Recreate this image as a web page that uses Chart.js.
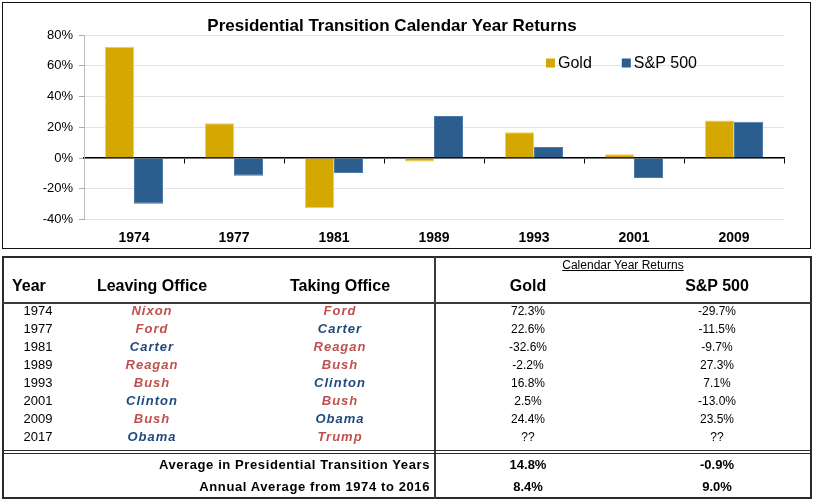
<!DOCTYPE html>
<html>
<head>
<meta charset="utf-8">
<script src="https://cdn.jsdelivr.net/npm/chart.js@4.4.1/dist/chart.umd.min.js"></script>
<style>
html,body{margin:0;padding:0;background:#fff;}
body{width:814px;height:503px;position:relative;overflow:hidden;font-family:"Liberation Sans",Arial,sans-serif;color:#000;}
#chartWrap{position:absolute;left:0;top:0;width:814px;height:250px;}
#chartBorder{position:absolute;left:2px;top:2px;width:809px;height:247px;border:1px solid #111;box-sizing:border-box;pointer-events:none;}
#tableBorder{position:absolute;left:2px;top:256px;width:810px;height:243px;border:2px solid #2a2a2a;box-sizing:border-box;}
#vline{position:absolute;left:434px;top:256px;width:2px;height:243px;background:#3a3a3a;}
#hline{position:absolute;left:2px;top:302px;width:810px;height:2px;background:#3a3a3a;}
#dline{position:absolute;left:2px;top:450px;width:810px;height:0;border-top:4px double #2a2a2a;}
.t{position:absolute;height:18px;line-height:18px;white-space:nowrap;}
.hdr{font-weight:bold;font-size:16px;}
.yr{font-size:13px;}
.nm{font-weight:bold;font-style:italic;font-size:13px;letter-spacing:1px;}
.val{font-size:12px;}
.cyr{font-size:12px;text-decoration:underline;}
.avgl{font-weight:bold;font-size:13px;letter-spacing:0.6px;}
.avgv{font-weight:bold;font-size:13px;}
.R{color:#C0504D;}
.D{color:#1F497D;}
</style>
</head>
<body>
<div id="chartWrap"><canvas id="c" width="814" height="250"></canvas></div>
<div id="chartBorder"></div>
<div id="tableBorder"></div>
<div id="vline"></div>
<div id="hline"></div>
<div id="dline"></div>
<div id="tbl"></div>
<script>
// ---- chart data ----
const years = ['1974','1977','1981','1989','1993','2001','2009'];
const goldReturns = [72.3, 22.6, -32.6, -2.2, 16.8, 2.5, 24.4];
const spReturns = [-29.7, -11.5, -9.7, 27.3, 7.1, -13.0, 23.5];
const yTicks = [-40, -20, 0, 20, 40, 60, 80];

// ---- table data ----
const tableYears = ['1974','1977','1981','1989','1993','2001','2009','2017'];
const leaving = ['Nixon','Ford','Carter','Reagan','Bush','Clinton','Bush','Obama'];
const leavingParty = ['R','R','D','R','R','D','R','D'];
const taking = ['Ford','Carter','Reagan','Bush','Clinton','Bush','Obama','Trump'];
const takingParty = ['R','D','R','R','D','R','D','R'];
const goldTable = ['72.3%','22.6%','-32.6%','-2.2%','16.8%','2.5%','24.4%','??'];
const spTable = ['-29.7%','-11.5%','-9.7%','27.3%','7.1%','-13.0%','23.5%','??'];
const avgLabels = ['Average in Presidential Transition Years','Annual Average from 1974 to 2016'];
const avgGold = ['14.8%','8.4%'];
const avgSp = ['-0.9%','9.0%'];

const legendPlugin = {
  id: 'insideLegend',
  afterDraw(chart, args, opts) {
    const ctx = chart.ctx;
    ctx.save();
    ctx.font = '16px "Liberation Sans", Arial, sans-serif';
    ctx.textBaseline = 'middle';
    let x = opts.x;
    const y = opts.y;
    chart.data.datasets.forEach(ds => {
      ctx.fillStyle = ds.backgroundColor;
      ctx.fillRect(x, y - 4.5, 9, 9);
      ctx.fillStyle = '#000';
      ctx.fillText(ds.label, x + 12, y + 0.5);
      x += 12 + ctx.measureText(ds.label).width + opts.gap;
    });
    ctx.restore();
  }
};

new Chart(document.getElementById('c'), {
  type: 'bar',
  data: {
    labels: years,
    datasets: [
      { label: 'Gold', data: goldReturns, backgroundColor: '#D4A800', borderColor: '#F0CF55', borderWidth: 1, barPercentage: 1, categoryPercentage: 0.58 },
      { label: 'S&P 500', data: spReturns, backgroundColor: '#2B5D8F', borderColor: '#4C79A6', borderWidth: 1, barPercentage: 1, categoryPercentage: 0.58 }
    ]
  },
  options: {
    responsive: false,
    animation: false,
    layout: { padding: { left: 0, right: 30, top: 0, bottom: 0 } },
    plugins: {
      legend: { display: false },
      tooltip: { enabled: false },
      title: {
        display: true,
        text: 'Presidential Transition Calendar Year Returns',
        color: '#000',
        font: { family: '"Liberation Sans", Arial, sans-serif', size: 17, weight: 'bold', lineHeight: 1 },
        padding: { top: 17.5, bottom: 0.5 }
      },
      insideLegend: { x: 546, y: 63, gap: 30 }
    },
    scales: {
      x: {
        grid: { display: false, drawTicks: false },
        border: { display: false },
        ticks: { color: '#000', font: { family: '"Liberation Sans", Arial, sans-serif', size: 14, weight: 'bold' }, padding: 10 },
        afterFit: s => { s.height = 30.5; }
      },
      x2: {
        type: 'category',
        labels: years,
        position: { y: 0 },
        offset: true,
        z: 1,
        grid: { offset: true, drawOnChartArea: false, drawTicks: true, tickLength: 5, color: '#000', tickColor: '#000' },
        border: { display: true, color: '#000', width: 1.5 },
        ticks: { display: false }
      },
      y: {
        min: -40, max: 80,
        afterBuildTicks: s => { s.ticks = yTicks.map(v => ({ value: v })); },
        ticks: { color: '#000', font: { family: '"Liberation Sans", Arial, sans-serif', size: 13 }, padding: 6, callback: v => v + '%' },
        grid: { color: '#E2E2E2', lineWidth: 1, tickLength: 5, tickColor: '#AAAAAA' },
        border: { color: '#BBBBBB', width: 1 },
        afterFit: s => { s.width = 84; }
      }
    }
  },
  plugins: [legendPlugin]
});

// ---- table ----
const tbl = document.getElementById('tbl');
function put(text, x, y, cls, align) {
  const d = document.createElement('div');
  d.className = 't ' + cls;
  d.textContent = text;
  d.style.top = (y - 9) + 'px';
  if (align === 'center') { d.style.left = (x - 150) + 'px'; d.style.width = '300px'; d.style.textAlign = 'center'; }
  else if (align === 'right') { d.style.left = (x - 400) + 'px'; d.style.width = '400px'; d.style.textAlign = 'right'; }
  else { d.style.left = x + 'px'; }
  tbl.appendChild(d);
}
const colYear = 38, colLeave = 152, colTake = 340, colGold = 528, colSp = 717;
put('Calendar Year Returns', 623, 265, 'cyr', 'center');
put('Year', 12, 286, 'hdr', 'left');
put('Leaving Office', colLeave, 286, 'hdr', 'center');
put('Taking Office', colTake, 286, 'hdr', 'center');
put('Gold', colGold, 286, 'hdr', 'center');
put('S&P 500', colSp, 286, 'hdr', 'center');
tableYears.forEach((yr, i) => {
  const y = 311 + 18 * i;
  put(yr, colYear, y, 'yr', 'center');
  put(leaving[i], colLeave, y, 'nm ' + leavingParty[i], 'center');
  put(taking[i], colTake, y, 'nm ' + takingParty[i], 'center');
  put(goldTable[i], colGold, y, 'val', 'center');
  put(spTable[i], colSp, y, 'val', 'center');
});
avgLabels.forEach((lab, i) => {
  const y = 465 + 21.5 * i;
  put(lab, 430, y, 'avgl', 'right');
  put(avgGold[i], colGold, y, 'avgv', 'center');
  put(avgSp[i], colSp, y, 'avgv', 'center');
});
</script>
</body>
</html>
